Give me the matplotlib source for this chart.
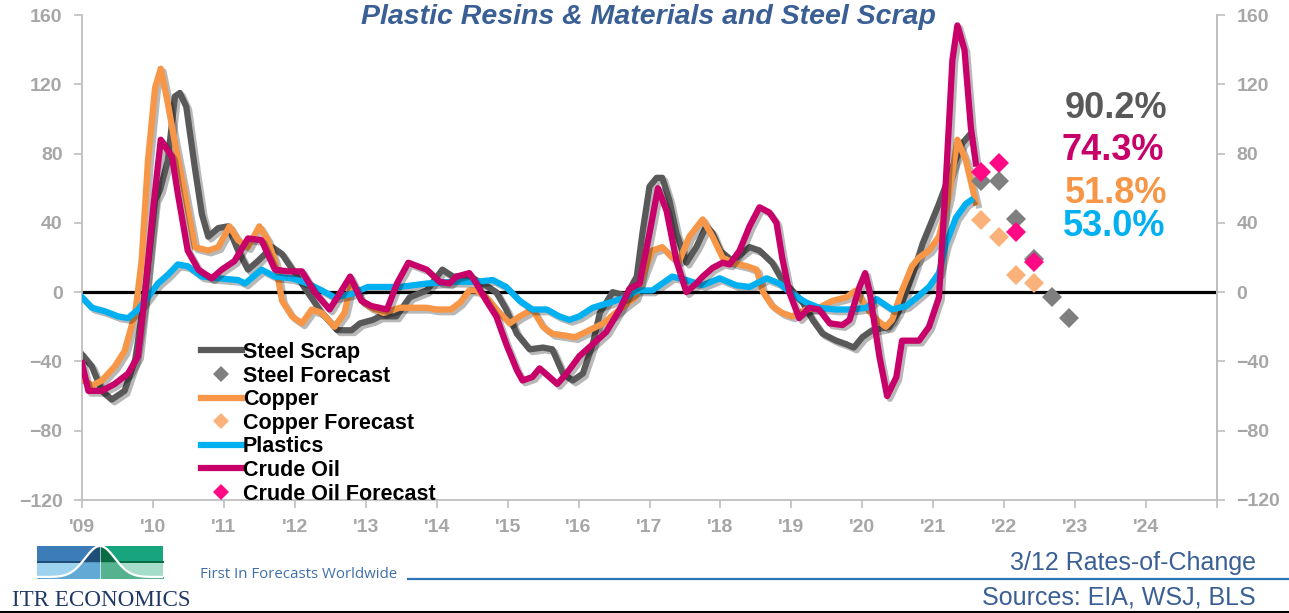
import numpy as np
import matplotlib.pyplot as plt
import matplotlib.patheffects as pe
from matplotlib.lines import Line2D
from matplotlib.patches import Rectangle

plt.rcParams['font.family'] = ['Liberation Sans', 'DejaVu Sans']

# 3/12 rates-of-change, decimal years
steel_x = [2009.0, 2009.14, 2009.28, 2009.42, 2009.6, 2009.75, 2009.89, 2010.03, 2010.1, 2010.21,
           2010.31, 2010.38, 2010.47, 2010.59, 2010.69, 2010.78, 2010.92, 2011.06, 2011.2, 2011.34,
           2011.48, 2011.68, 2011.82, 2012.0, 2012.18, 2012.38, 2012.6, 2012.8, 2012.92, 2013.1,
           2013.2, 2013.43, 2013.62, 2013.86, 2014.08, 2014.23, 2014.46, 2014.65, 2014.84, 2014.98,
           2015.13, 2015.31, 2015.5, 2015.63, 2015.78, 2015.92, 2016.06, 2016.2, 2016.3, 2016.48,
           2016.67, 2016.82, 2016.9, 2017.0, 2017.1, 2017.18, 2017.28, 2017.38, 2017.52, 2017.66,
           2017.8, 2017.89, 2017.99, 2018.17, 2018.41, 2018.55, 2018.73, 2018.87, 2019.01, 2019.16,
           2019.3, 2019.44, 2019.63, 2019.77, 2019.88, 2020.0, 2020.14, 2020.38, 2020.5, 2020.61,
           2020.75, 2020.85, 2021.08, 2021.27, 2021.41, 2021.5]
steel_y = [-36, -43, -57, -62, -57, -39, 0, 53, 59, 76,
           113, 115, 107, 72, 45, 32, 37, 38, 24, 13,
           18, 26, 22, 11, 0, -12, -22, -22, -18, -16,
           -14, -14, -3, 1, 13, 9, 9, 5, 0, -10,
           -24, -33, -32, -33, -47, -51, -47, -30, -12, 0,
           -2, 9, 34, 61, 66, 66, 53, 34, 17, 26,
           38, 34, 24, 18, 26, 24, 17, 7, 1, -6,
           -16, -24, -28, -30, -32, -26, -22, -20, -12, -1,
           15, 28, 51, 72, 86, 90.2]

copper_x = [2009.0, 2009.14, 2009.28, 2009.46, 2009.6, 2009.75, 2009.84, 2009.93, 2010.03, 2010.11,
            2010.21, 2010.31, 2010.45, 2010.59, 2010.78, 2010.92, 2011.08, 2011.2, 2011.34, 2011.5,
            2011.62, 2011.72, 2011.82, 2011.96, 2012.1, 2012.24, 2012.38, 2012.56, 2012.7, 2012.8,
            2012.94, 2013.08, 2013.25, 2013.48, 2013.7, 2013.86, 2014.0, 2014.2, 2014.33, 2014.46,
            2014.56, 2014.7, 2014.84, 2015.03, 2015.17, 2015.35, 2015.5, 2015.63, 2015.8, 2015.95,
            2016.15, 2016.35, 2016.52, 2016.67, 2016.8, 2016.9, 2017.04, 2017.18, 2017.32, 2017.42,
            2017.56, 2017.75, 2017.89, 2018.03, 2018.17, 2018.37, 2018.51, 2018.6, 2018.73, 2018.87,
            2019.01, 2019.21, 2019.39, 2019.58, 2019.77, 2019.91, 2020.06, 2020.2, 2020.33, 2020.42,
            2020.56, 2020.7, 2020.8, 2020.94, 2021.08, 2021.22, 2021.34, 2021.46, 2021.6]
copper_y = [-50, -54, -51, -43, -34, -12, 18, 76, 118, 129,
            109, 86, 57, 26, 24, 26, 38, 30, 26, 38,
            30, 18, -5, -14, -18, -10, -12, -20, -12, 6,
            -5, -9, -12, -9, -9, -9, -10, -10, -6, 1,
            1, -3, -10, -18, -14, -10, -20, -24, -25, -26,
            -22, -18, -12, -7, -3, 9, 24, 26, 20, 18,
            32, 42, 32, 20, 17, 15, 13, 0, -8, -12,
            -14, -10, -9, -5, -3, 1, -9, -16, -20, -16,
            1, 15, 20, 24, 32, 55, 88, 76, 51.8]

plastics_x = [2009.0, 2009.14, 2009.32, 2009.51, 2009.65, 2009.79, 2009.93, 2010.07, 2010.21, 2010.35,
              2010.49, 2010.69, 2010.92, 2011.2, 2011.3, 2011.53, 2011.72, 2011.96, 2012.18, 2012.38,
              2012.56, 2012.8, 2013.03, 2013.2, 2013.48, 2013.86, 2014.23, 2014.56, 2014.79, 2014.98,
              2015.17, 2015.35, 2015.55, 2015.73, 2015.87, 2016.01, 2016.2, 2016.44, 2016.67, 2016.82,
              2017.04, 2017.18, 2017.32, 2017.52, 2017.75, 2017.99, 2018.22, 2018.41, 2018.65, 2018.83,
              2019.01, 2019.21, 2019.39, 2019.63, 2019.86, 2020.06, 2020.2, 2020.42, 2020.62, 2020.8,
              2020.94, 2021.08, 2021.18, 2021.32, 2021.46, 2021.53]
plastics_y = [-3, -9, -11, -14, -15, -10, -3, 5, 10, 16,
              15, 9, 8, 7, 5, 13, 9, 8, 5, 1,
              -3, -1, 3, 3, 3, 5, 6, 6, 7, 3,
              -5, -10, -10, -14, -16, -14, -9, -6, -3, 1,
              1, 5, 9, 7, 4, 8, 4, 3, 8, 5,
              -1, -6, -9, -10, -10, -9, -4, -10, -8, -2,
              3, 11, 28, 43, 51, 53.0]

crude_x = [2009.0, 2009.09, 2009.28, 2009.46, 2009.65, 2009.79, 2009.89, 2010.0, 2010.11, 2010.27,
           2010.35, 2010.49, 2010.64, 2010.83, 2010.97, 2011.15, 2011.34, 2011.53, 2011.72, 2011.9,
           2012.1, 2012.28, 2012.49, 2012.66, 2012.78, 2012.94, 2013.08, 2013.3, 2013.44, 2013.6,
           2013.86, 2014.04, 2014.18, 2014.28, 2014.46, 2014.56, 2014.7, 2014.84, 2014.98, 2015.13,
           2015.21, 2015.35, 2015.45, 2015.59, 2015.7, 2015.83, 2016.01, 2016.2, 2016.39, 2016.58,
           2016.72, 2016.86, 2017.0, 2017.12, 2017.24, 2017.38, 2017.52, 2017.66, 2017.75, 2017.89,
           2018.03, 2018.13, 2018.27, 2018.41, 2018.55, 2018.69, 2018.79, 2018.87, 2018.97, 2019.11,
           2019.25, 2019.39, 2019.54, 2019.72, 2019.82, 2019.96, 2020.04, 2020.1, 2020.24, 2020.35,
           2020.48, 2020.56, 2020.8, 2020.94, 2021.08, 2021.18, 2021.27, 2021.34, 2021.44, 2021.53,
           2021.6]
crude_y = [-41, -57, -57, -53, -47, -37, 0, 47, 88, 78,
           57, 24, 13, 8, 13, 18, 31, 30, 13, 12,
           12, 0, -10, 1, 9, -5, -8, -10, 5, 17,
           13, 6, 5, 9, 11, 5, -5, -14, -30, -45,
           -51, -49, -44, -49, -53, -47, -37, -30, -23, -10,
           2, 5, 34, 60, 47, 18, 0, 5, 9, 14,
           17, 16, 24, 38, 49, 46, 40, 20, 0, -15,
           -9, -10, -18, -19, -16, 3, 11, 1, -37, -60,
           -49, -28, -28, -20, -3, 66, 134, 154, 140, 95,
           74.3]

# quarterly forecasts
fc_x = [2021.67, 2021.92, 2022.17, 2022.42, 2022.67, 2022.92]
steel_fc = [64, 64, 42, 19, -3, -15]
copper_fc = [41.5, 32, 10, 5]
crude_fc = [69.5, 74.3, 35, 17.5]

years = list(range(2009, 2026))
year_labels = ["'%02d" % (y % 100) for y in years[:-1]] + ['']

c_steel = '#595959'
c_copper = '#F79646'
c_plastics = '#00B0F0'
c_crude = '#C8006A'
c_steel_fc = '#7F7F7F'
c_copper_fc = '#FAB27A'
c_crude_fc = '#FF0A84'
c_axis = '#BFBFBF'
c_tick = '#A6A6A6'
c_navy = '#3A5F94'

W, H = 1289, 613
fig = plt.figure(figsize=(W / 100, H / 100), dpi=100)
ax = fig.add_axes([82 / W, 1 - 500 / H, (1217 - 82) / W, (500 - 15) / H])

shadow = [pe.SimpleLineShadow(offset=(2, -2), shadow_color='k', alpha=0.28), pe.Normal()]
lw = 4.5

ax.axhline(0, color='black', lw=2.3, zorder=1)
ax.plot(steel_x, steel_y, color=c_steel, lw=lw, solid_joinstyle='round', path_effects=shadow, zorder=2)
ax.plot(copper_x, copper_y, color=c_copper, lw=lw, solid_joinstyle='round', path_effects=shadow, zorder=3)
ax.plot(plastics_x, plastics_y, color=c_plastics, lw=lw, solid_joinstyle='round', path_effects=shadow, zorder=4)
ax.plot(crude_x, crude_y, color=c_crude, lw=lw, solid_joinstyle='round', path_effects=shadow, zorder=5)

ax.plot(fc_x, steel_fc, 'D', color=c_steel_fc, ms=10, mew=0, zorder=6)
ax.plot(fc_x[:len(copper_fc)], copper_fc, 'D', color=c_copper_fc, ms=10, mew=0, zorder=6)
ax.plot(fc_x[:len(crude_fc)], crude_fc, 'D', color=c_crude_fc, ms=10, mew=0, zorder=7)

ax.set_xlim(2009, 2025)
ax.set_ylim(-120, 160)
ax.set_yticks(range(-120, 161, 40))
ax.set_xticks(years)
ax.set_xticklabels(year_labels)

ax.spines['top'].set_visible(False)
for s in ['left', 'right', 'bottom']:
    ax.spines[s].set_color(c_axis)
    ax.spines[s].set_linewidth(1.3)
ax.tick_params(axis='both', colors=c_axis, length=6, width=1.2, direction='out')
ax.tick_params(axis='x', labelcolor=c_tick, labelsize=14, pad=8)
ax.tick_params(axis='y', labelcolor=c_tick, labelsize=14, pad=8)
for lbl in ax.get_xticklabels() + ax.get_yticklabels():
    lbl.set_fontweight('bold')

ax2 = ax.twinx()
ax2.set_ylim(-120, 160)
ax2.set_yticks(range(-120, 161, 40))
for s in ['top', 'left', 'bottom']:
    ax2.spines[s].set_visible(False)
ax2.spines['right'].set_color(c_axis)
ax2.spines['right'].set_linewidth(1.3)
ax2.tick_params(axis='y', colors=c_axis, labelcolor=c_tick, length=6, width=1.2, labelsize=14, pad=8)
for lbl in ax2.get_yticklabels():
    lbl.set_fontweight('bold')

# latest readings
big = dict(fontsize=26, fontweight='bold', ha='center', va='center')
ax.text(2023.58, 106, '%.1f%%' % steel_y[-1], color=c_steel, **big)
ax.text(2023.53, 82, '%.1f%%' % crude_y[-1], color=c_crude, **big)
ax.text(2023.58, 57, '%.1f%%' % copper_y[-1], color=c_copper, **big)
ax.text(2023.55, 38, '%.1f%%' % plastics_y[-1], color=c_plastics, **big)

handles = [
    Line2D([], [], color=c_steel, lw=lw),
    Line2D([], [], ls='', marker='D', color=c_steel_fc, ms=8, mew=0),
    Line2D([], [], color=c_copper, lw=lw),
    Line2D([], [], ls='', marker='D', color=c_copper_fc, ms=8, mew=0),
    Line2D([], [], color=c_plastics, lw=lw),
    Line2D([], [], color=c_crude, lw=lw),
    Line2D([], [], ls='', marker='D', color=c_crude_fc, ms=8, mew=0),
]
names = ['Steel Scrap', 'Steel Forecast', 'Copper', 'Copper Forecast', 'Plastics', 'Crude Oil',
         'Crude Oil Forecast']
leg = ax.legend(handles, names, loc='upper left', bbox_to_anchor=(201 / W, 1 - 342 / H),
                bbox_transform=fig.transFigure, frameon=False,
                prop={'weight': 'bold', 'size': 15.5}, handlelength=1.9, handletextpad=0.05,
                labelspacing=0.12, borderpad=0, borderaxespad=0)
leg.set_zorder(10)

fig.text(648 / W, 1 - 17 / H, 'Plastic Resins & Materials and Steel Scrap', color=c_navy,
         fontsize=20.5, fontweight='bold', fontstyle='italic', ha='center', va='center')

# footer
fig.text(1256 / W, 1 - 563 / H, '3/12 Rates-of-Change', color=c_navy, fontsize=18,
         ha='right', va='center')
fig.text(1256 / W, 1 - 597 / H, 'Sources: EIA, WSJ, BLS', color=c_navy, fontsize=18,
         ha='right', va='center')
fig.text(200 / W, 1 - 575 / H, 'First In Forecasts Worldwide', color='#3F6FA8', fontsize=10.8,
         family='Open Sans', ha='left', va='center')
fig.add_artist(Line2D([408 / W, 1.0], [1 - 579 / H] * 2, color='#2E75B6', lw=1.6))
fig.add_artist(Line2D([0, 1.0], [1 - 611.5 / H] * 2, color='black', lw=2.2))
fig.text(12 / W, 1 - 600 / H, 'ITR ECONOMICS', color='#1F3864', fontsize=16.6,
         family='Liberation Serif', ha='left', va='center')

# logo blocks with bell curve
lg = fig.add_axes([37 / W, 1 - 578 / H, 126 / W, 32 / H])
lg.set_xlim(0, 126)
lg.set_ylim(0, 32)
lg.axis('off')
lg.add_patch(Rectangle((0, 16.5), 62, 15.5, color='#3C7DB8'))
lg.add_patch(Rectangle((0, 0), 62, 15.5, color='#9ED3EF'))
lg.add_patch(Rectangle((64, 16.5), 62, 15.5, color='#17A57E'))
lg.add_patch(Rectangle((64, 0), 62, 15.5, color='#A6DCCA'))
xs = np.linspace(0, 126, 400)
bell = 1 + 31 * np.exp(-((xs - 63) / 21) ** 2)
left = xs <= 62
right = xs >= 64
lg.fill_between(xs[left], 16.5, np.clip(bell[left], 16.5, 32), color='#1F4E79')
lg.fill_between(xs[right], 16.5, np.clip(bell[right], 16.5, 32), color='#0B6B45')
lg.fill_between(xs[left], 0, np.clip(bell[left], 0, 15.5), color='#62A9D6')
lg.fill_between(xs[right], 0, np.clip(bell[right], 0, 15.5), color='#55B28F')
lg.plot(xs, bell, color='white', lw=1.6)

fig.savefig('out.png', dpi=100)
